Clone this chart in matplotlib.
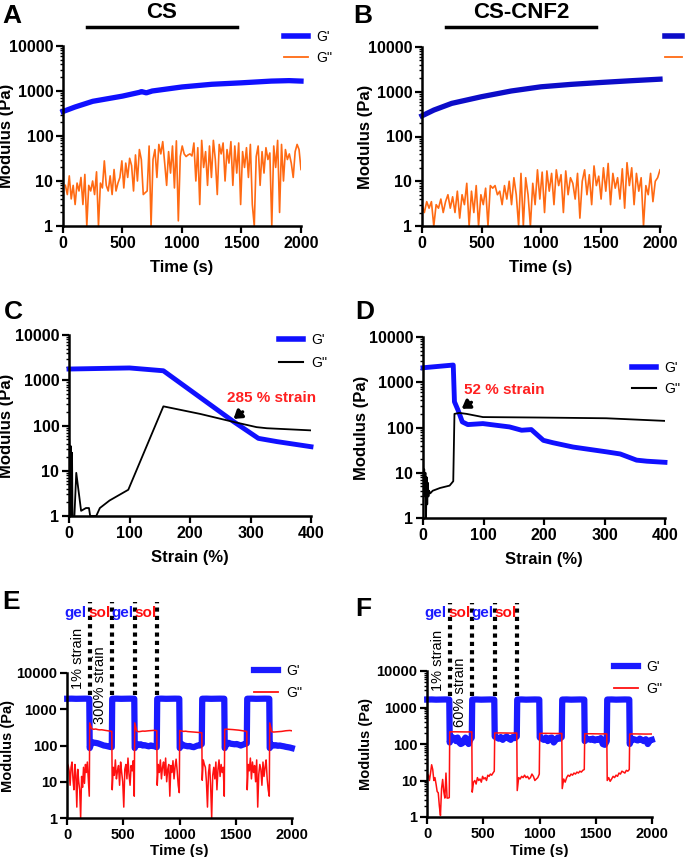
import numpy as np
import matplotlib.pyplot as plt
from matplotlib.lines import Line2D
from matplotlib.transforms import blended_transform_factory

W, H = 685, 857
plt.rcParams['font.family'] = ['Liberation Sans', 'DejaVu Sans']

# ---- panel A (CS, time sweep) ----
a_t_gp = [0, 100, 250, 500, 640, 660, 700, 750, 1000, 1250, 1500, 1750, 1900, 2000]
a_gp = [350, 440, 590, 770, 930, 970, 910, 1000, 1230, 1410, 1520, 1660, 1700, 1660]
a_gpp = [8, 5, 13, 4, 8, 3, 9, 6, 12, 3, 14, 1, 8, 6, 10, 5, 16, 1, 9, 7, 28,
         8, 6, 13, 5, 18, 6, 9, 12, 28, 7, 25, 12, 32, 22, 6, 38, 10, 50, 30,
         5, 5.5, 6,
         60, 1, 30, 50, 12, 65, 40, 75, 25, 8, 45, 15, 60, 7, 78, 1.3, 35, 60,
         40, 35, 38, 40, 36,
         70, 10, 55, 3, 80, 20, 45, 8, 60, 12, 80, 30, 5, 65, 40, 70, 10, 50, 25, 75,
         8, 60, 15, 70, 3, 45, 20, 55, 12, 65, 3, 1, 35, 60, 8, 45, 15, 55, 30, 42,
         1, 60, 20, 80, 2, 65, 10, 50, 30, 40,
         25, 12, 45, 65, 50, 18]

# ---- panel B (CS-CNF2, time sweep) ----
b_t_gp = [0, 100, 250, 500, 750, 1000, 1250, 1500, 1750, 2000]
b_gp = [290, 390, 550, 775, 1040, 1290, 1460, 1610, 1760, 1910]
b_gpp = [3, 2, 3.5, 2.5, 3.5, 1, 3, 2.5, 4, 2, 3.5, 5, 2.5, 4.5, 2, 6, 1.5, 5, 3,
         9, 1, 6, 2, 8, 1, 5, 3, 7, 1,
         8, 7, 8, 5, 6, 3, 8, 4, 10, 3, 12, 5,
         1, 15, 1, 12, 5, 1, 9, 3,
         18, 4, 16, 2, 17, 6, 15, 3, 18, 8, 14, 2, 17, 5, 12, 9, 4, 15, 1.5, 10,
         18, 5, 14, 3, 22, 8, 13, 4, 20, 6, 25, 3, 15, 7, 12, 4, 19, 2.5, 26,
         8, 20, 3, 15, 6, 12, 1, 8, 5, 15, 3.5, 10, 12, 18]

# ---- panel C (CS, strain sweep) ----
c_x_gp = [0, 100, 156, 272, 313, 344, 400]
c_gp = [1770, 1870, 1620, 122, 52, 44, 34]
c_x_gpp = [0, 1, 2, 3, 4, 5, 6, 8, 12, 20, 28, 33, 35, 45, 51, 67, 98, 156, 217, 272, 310, 327, 400]
c_gpp = [60, 30, 0.5, 35, 0.5, 25, 0.5, 0.5, 9, 1.3, 1.5, 1.5, 1, 1, 1.5, 2.2, 3.8, 265, 180, 120, 92, 87, 78]

# ---- panel D (CS-CNF2, strain sweep) ----
d_x_gp = [0, 50, 52, 58, 65, 74, 99, 121, 143, 163, 179, 199, 215, 248, 303, 326, 353, 370, 400]
d_gp = [2090, 2400, 370, 240, 133, 116, 122, 112, 103, 87, 90, 52, 46, 37, 29, 26, 19, 18, 17]
d_x_gpp = [0, 1, 2, 3, 4, 5, 6, 7, 8, 9, 10, 12, 16, 28, 44, 50, 52, 60, 72, 99, 193, 303, 400]
d_gpp = [18, 5, 12, 3, 10, 1, 8, 2, 6, 3, 4, 3.5, 4, 4.6, 5.2, 6.5, 200, 210, 200, 170, 166, 160, 140]

# ---- panels E, F (step strain) ----
gel_starts = [0, 400, 800, 1200, 1600]
sol_starts = [200, 600, 1000, 1400, 1800]

e_gp_gel = [1950, 1960, 1940, 1950, 1960, 1950]
e_gp_sol = [[85, 125, 120, 118, 115, 110, 105, 100, 98, 95, 92, 90],
            [85, 110, 105, 108, 100, 102, 98, 95, 100, 97, 95, 90],
            [85, 110, 100, 98, 95, 97, 92, 90, 95, 100, 100, 110],
            [85, 115, 118, 112, 110, 108, 110, 105, 100, 105, 110, 115],
            [85, 105, 100, 102, 98, 100, 97, 95, 92, 90, 88, 85]]
e_gpp_gel = [[32, 28, 20, 8, 25, 35, 12, 6, 30, 15, 2, 22, 10, 6, 1, 14, 7, 25, 9, 30, 18, 35, 12, 4],
             [6, 25, 15, 40, 12, 20, 28, 8, 35, 18, 10, 2, 22, 30, 12, 45, 16, 8, 28, 20, 38, 4],
             [8, 30, 18, 40, 12, 25, 35, 15, 45, 10, 22, 30, 4, 28, 18, 38, 12, 26, 42, 20, 8, 5],
             [11, 40, 30, 25, 10, 2, 18, 30, 8, 1, 15, 25, 12, 35, 6, 22, 40, 14, 30, 18, 25, 4],
             [6, 30, 20, 45, 12, 35, 18, 28, 10, 40, 2, 16, 30, 22, 8, 35, 14, 25, 40, 12, 6, 4]]
e_gpp_sol = [[420, 290, 280, 285, 275, 270, 272, 265, 260, 255, 250, 245],
             [420, 250, 240, 245, 250, 248, 252, 255, 258, 260, 262, 255],
             [260, 250, 245, 248, 242, 240, 238, 235, 232, 230, 228, 225],
             [280, 282, 280, 278, 275, 272, 270, 265, 260, 255, 250, 245],
             [420, 240, 235, 238, 240, 242, 245, 250, 255, 258, 260, 255]]

f_gp_gel = [1650, 1660, 1640, 1650, 1660, 1650]
f_gp_sol = [[110, 160, 150, 140, 120, 150, 110, 100, 105, 130, 150, 115, 100, 130, 150],
            [160, 150, 140, 155, 130, 150, 160, 140, 130, 155, 145, 160],
            [150, 140, 130, 150, 120, 145, 150, 110, 130, 150, 140, 155],
            [120, 140, 135, 130, 140, 125, 135, 130, 145, 100, 95, 120],
            [100, 140, 135, 130, 125, 140, 130, 120, 135, 100, 125, 130]]
f_gpp_gel = [[15, 14, 10, 16, 27, 20, 10, 12, 8, 5, 4.6, 2, 1.1, 6, 10.7, 5, 3.3, 16, 3.3, 3.3, 3.4],
             [4.8, 9, 10, 8, 12, 10, 11, 9, 13, 11, 12, 10, 14, 13, 15, 14, 16, 18],
             [5.3, 12, 11, 13, 12, 14, 12, 13, 11, 12, 15, 13, 10, 11, 12, 15],
             [6, 11, 9, 12, 14, 13, 15, 14, 16, 15, 17, 16, 18, 17, 19, 20],
             [10, 12, 9.5, 11, 13, 12, 14, 13, 16, 15, 18, 17, 16, 19, 18, 20]]
f_gpp_sol = [[215, 216, 215, 214, 215], [200, 201, 200, 199, 200], [195, 196, 195, 194, 195],
             [190, 191, 190, 189, 190], [188, 189, 188, 187, 188]]


def rect(l, t, r, b):
    return [l / W, 1 - b / H, (r - l) / W, (b - t) / H]


def fx(x):
    return x / W


def fy(y):
    return 1 - y / H


def steps(gel, sol):
    # join gel/sol segments into one trace
    t, v = [], []
    for i in range(5):
        g = gel[i] if isinstance(gel[0], list) else gel
        t += list(np.linspace(gel_starts[i] + 2, gel_starts[i] + 198, len(g)))
        v += g
        s = sol[i]
        t += list(np.linspace(sol_starts[i] + 2, sol_starts[i] + 198, len(s)))
        v += s
    return t, v


def style(ax, xmax, xticks, xlabel, ylab_x, fs=11.5, lfs=12, lfs_y=12, lpad=7):
    ax.set_yscale('log')
    ax.set_ylim(1, 10000)
    ax.set_xlim(0, xmax)
    ax.set_xticks(xticks)
    ax.set_yticks([1, 10, 100, 1000, 10000])
    ax.set_yticklabels(['1', '10', '100', '1000', '10000'])
    ax.yaxis.set_minor_formatter(plt.NullFormatter())
    for s in ['top', 'right']:
        ax.spines[s].set_visible(False)
    for s in ['left', 'bottom']:
        ax.spines[s].set_linewidth(1.8)
    ax.tick_params(which='major', length=5, width=1.6, labelsize=fs, pad=2)
    ax.tick_params(which='minor', length=2.5, width=1)
    ax.tick_params(axis='x', which='minor', bottom=False)
    for lab in ax.get_xticklabels() + ax.get_yticklabels():
        lab.set_fontweight('bold')
    ax.set_xlabel(xlabel, fontsize=lfs, fontweight='bold', labelpad=lpad)
    ax.set_ylabel('Modulus (Pa)', fontsize=lfs_y, fontweight='bold')
    ax.yaxis.set_label_coords(fx(ylab_x), 0.5,
                              transform=blended_transform_factory(fig.transFigure, ax.transAxes))


def legend(ax, x, y, c1, c2, lw1=4, lw2=1.3, sp=0.5, hl=1.7):
    h = [Line2D([], [], color=c1, lw=lw1), Line2D([], [], color=c2, lw=lw2)]
    ax.legend(h, ["G'", "G''"], loc='upper left', bbox_to_anchor=(fx(x), fy(y)),
              bbox_transform=fig.transFigure, frameon=False, fontsize=10,
              handlelength=hl, handletextpad=0.6, labelspacing=sp,
              borderpad=0, borderaxespad=0)


def arrow(ax, head, tail):
    ax.annotate('', xy=head, xytext=tail,
                arrowprops=dict(arrowstyle='-|>,head_width=0.3,head_length=0.45',
                                color='black', lw=2.4, shrinkA=0, shrinkB=0))


fig = plt.figure(figsize=(6.85, 8.57), dpi=100)

# A
ax = fig.add_axes(rect(63, 46, 301, 226))
ax.plot(a_t_gp, a_gp, color='#1010ff', lw=3.8, clip_on=False)
ax.plot(np.linspace(20, 2000, len(a_gpp)), a_gpp, color='#ff6a13', lw=1.2)
style(ax, 2000, [0, 500, 1000, 1500, 2000], 'Time (s)', 14)
legend(ax, 284, 30, '#1010ff', '#ff6a13')

# B
ax = fig.add_axes(rect(422, 47, 660, 226))
ax.plot(b_t_gp, b_gp, color='#0c0cc8', lw=3.8, clip_on=False)
ax.plot(np.linspace(0, 2000, len(b_gpp)), b_gpp, color='#ff6a13', lw=1.2)
style(ax, 2000, [0, 500, 1000, 1500, 2000], 'Time (s)', 373)
legend(ax, 665, 30, '#0c0cc8', '#ff6a13', hl=1.2)

# C
ax = fig.add_axes(rect(69, 335, 311, 516))
ax.plot(c_x_gp, c_gp, color='#1010ff', lw=3.5, clip_on=False)
ax.plot(c_x_gpp, c_gpp, color='black', lw=1.3)
style(ax, 400, [0, 100, 200, 300, 400], 'Strain (%)', 14)
arrow(ax, (272, 140), (287, 200))
ax.text(334, 410, '285 % strain', color='#ff2020', fontsize=11, fontweight='bold',
        ha='center', va='center')
legend(ax, 279, 333, '#1010ff', 'black', lw2=1.5, sp=0.65)

# D
ax = fig.add_axes(rect(423, 337, 665, 518))
ax.plot(d_x_gp, d_gp, color='#1010ff', lw=3.5, clip_on=False)
ax.plot(d_x_gpp, d_gpp, color='black', lw=1.3)
style(ax, 400, [0, 100, 200, 300, 400], 'Strain (%)', 369)
arrow(ax, (64, 260), (80, 360))
ax.text(134, 680, '52 % strain', color='#ff2020', fontsize=11, fontweight='bold',
        ha='center', va='center')
legend(ax, 632, 361, '#1010ff', 'black', lw2=1.5, sp=0.5)

# E and F
for (l, t, r, b), gp_gel, gp_sol, gpp_gel, gpp_sol, big, lg, ylx, ys in [
        ((67, 673, 292, 818), e_gp_gel, e_gp_sol, e_gpp_gel, e_gpp_sol, '300% strain',
         (254, 664), 15, (4.5e5, 9e5, 2.6e4, 4600, 2500)),
        ((427, 671, 652, 817), f_gp_gel, f_gp_sol, f_gpp_gel, f_gpp_sol, '60% strain',
         (614, 660), 373, (3.9e5, 7.3e5, 2.0e4, 2650, 2100))]:
    ax = fig.add_axes(rect(l, t, r, b))
    tt, vv = steps(gp_gel, gp_sol)
    ax.plot(tt, vv, color='#1a1aff', lw=4.5, clip_on=False)
    tt, vv = steps(gpp_gel, gpp_sol)
    ax.plot(tt, vv, color='#ff1010', lw=1.1)
    style(ax, 2000, [0, 500, 1000, 1500, 2000], 'Time (s)', ylx, fs=10.5, lfs=11,
          lfs_y=10.5, lpad=2)
    ty, dtop, y1, y2, dbot = ys
    for xv in [200, 400, 600, 800]:
        ax.plot([xv, xv], [dbot, dtop], color='black', lw=3, dashes=(1, 1), clip_on=False)
    for xv, word, col in [(75, 'gel', '#1a1aff'), (293, 'sol', '#ff1010'),
                          (497, 'gel', '#1a1aff'), (697, 'sol', '#ff1010')]:
        ax.text(xv, ty, word, color=col, fontsize=11, fontweight='bold',
                ha='center', va='center', clip_on=False)
    ax.text(100, y1, '1% strain', rotation=90, fontsize=10.5, ha='center', va='center')
    ax.text(295, y2, big, rotation=90, fontsize=10.5, ha='center', va='center')
    legend(ax, lg[0], lg[1], '#1a1aff', '#ff1010', lw1=4.5, sp=0.55)

# panel letters and titles
for x, y, s in [(2, 4, 'A'), (353, 4, 'B'), (4, 300, 'C'), (355, 300, 'D'),
                (2, 590, 'E'), (355, 597, 'F')]:
    fig.text(fx(x), fy(y), s, fontsize=19, fontweight='bold', va='top', ha='left')
fig.text(fx(162), fy(13), 'CS', fontsize=16, fontweight='bold', ha='center', va='center')
fig.text(fx(521), fy(13), 'CS-CNF2', fontsize=16, fontweight='bold', ha='center', va='center')
fig.add_artist(Line2D([fx(87), fx(237)], [fy(27), fy(27)], color='black', lw=2.5))
fig.add_artist(Line2D([fx(446), fx(596)], [fy(27), fy(27)], color='black', lw=2.5))

plt.savefig('out.png', dpi=100)
